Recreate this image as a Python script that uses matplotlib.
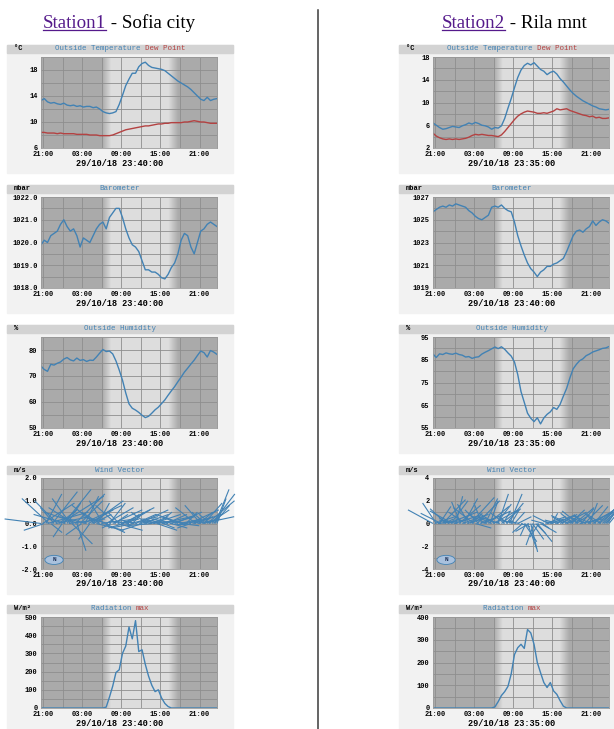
import numpy as np
import matplotlib.pyplot as plt
from matplotlib.patches import Rectangle, Ellipse
from matplotlib.lines import Line2D
from matplotlib.collections import LineCollection

# half-hourly samples, hours after 21:00 (28/10), from 20:40 to 23:40 next day
hours = np.arange(55) * 0.5 - 0.33
# wind records every 15 minutes over the same span
wind_hours = np.arange(109) * 0.25 - 0.33
time_ticks = [0, 6, 12, 18, 24]
time_labels = ["21:00", "03:00", "09:00", "15:00", "21:00"]
twilight = [9.0, 10.4, 19.1, 20.6]   # dawn start, full day, dusk start, full night

# ---- Station1 - Sofia city
s1_temp = [13.3, 13.6, 13.1, 12.9, 13.0, 12.8, 12.7, 12.9, 12.6, 12.5,
           12.6, 12.4, 12.5, 12.3, 12.4, 12.4, 12.2, 12.3, 12.0, 11.6,
           11.4, 11.3, 11.4, 11.6, 12.7, 14.1, 15.6, 16.6, 17.5, 17.5,
           18.5, 19.0, 19.2, 18.7, 18.4, 18.3, 18.2, 18.1, 17.9, 17.5,
           17.1, 16.7, 16.3, 16.0, 15.7, 15.4, 15.0, 14.5, 14.0, 13.5,
           13.3, 13.8, 13.3, 13.5, 13.6]
s1_dew = [8.4, 8.4, 8.3, 8.3, 8.3, 8.2, 8.3, 8.2, 8.2, 8.2,
          8.2, 8.1, 8.1, 8.1, 8.1, 8.0, 8.0, 8.0, 7.9, 7.9,
          7.9, 7.9, 8.0, 8.2, 8.4, 8.6, 8.8, 8.9, 9.0, 9.1,
          9.2, 9.3, 9.4, 9.4, 9.5, 9.6, 9.7, 9.7, 9.8, 9.8,
          9.9, 9.9, 9.9, 9.9, 10.0, 10.0, 10.1, 10.2, 10.1, 10.0,
          10.0, 9.9, 9.8, 9.8, 9.8]
s1_baro = [1019.9, 1020.1, 1020.0, 1020.3, 1020.4, 1020.5, 1020.8, 1021.0, 1020.7, 1020.5,
           1020.6, 1020.3, 1019.8, 1020.2, 1020.1, 1020.0, 1020.3, 1020.6, 1020.8, 1020.9,
           1020.6, 1021.1, 1021.3, 1021.5, 1021.5, 1021.1, 1020.6, 1020.2, 1019.9, 1019.8,
           1019.6, 1019.2, 1018.8, 1018.8, 1018.7, 1018.7, 1018.6, 1018.45, 1018.4, 1018.6,
           1018.9, 1019.1, 1019.5, 1020.1, 1020.4, 1020.3, 1019.8, 1019.5, 1020.0, 1020.5,
           1020.6, 1020.8, 1020.9, 1020.8, 1020.7]
s1_hum = [73.8, 72.5, 71.8, 74.5, 74.2, 74.9, 75.4, 76.5, 77.1, 76.2,
          75.8, 76.9, 76.0, 76.3, 75.6, 76.1, 76.0, 77.3, 78.8, 80.2,
          79.4, 79.6, 78.5, 75.8, 72.3, 68.4, 63.5, 59.3, 57.6, 56.9,
          56.0, 54.9, 54.0, 54.5, 55.7, 57.0, 58.0, 59.4, 60.8, 62.6,
          64.3, 65.9, 67.8, 69.6, 71.5, 73.0, 74.6, 76.1, 77.9, 79.6,
          79.0, 77.3, 79.8, 79.2, 78.3]
s1_wind_u = [-1.6, 1.4, -0.9, 0.7, 1.8, -1.2, 0.5, 1.1, -0.6, 1.5, -1.0,
             0.8, 1.9, -0.4, 1.2, -1.4, 0.6, 1.6, -0.8, 0.9, -1.1, 1.3,
             0.4, -1.5, 1.0, -0.7, 1.7, 0.6, -1.2, 1.1, -0.5, 1.4, 0.8,
             -1.0, 1.2, 0.5, -0.8, 1.5, -0.6, 0.9, 1.2, -1.1, 0.7, -0.4,
             1.3, 0.6, -0.9, 1.1, -0.5, 0.8, 1.4, -0.7, 0.6, 1.0, -0.8,
             1.2, 0.5, -1.0, 0.9, -0.6, 1.3, 0.7, -0.9, 1.1, 0.4, -0.7,
             1.0, 0.8, -1.1, 1.2, -0.5, 0.9, 0.6, -0.8, 1.3, 0.5, -1.0,
             0.9, -0.6, 1.1, 0.7, -0.9, 1.2, 0.4, -0.7, 1.0, 0.8, -1.2,
             1.1, 0.5, -0.8, 1.3, -0.6, 0.9, 1.2, -0.9, 1.0, 0.6, -0.7,
             1.4, 0.8, -0.6, 1.2, 0.9, -0.5, 1.0, 0.7, 0.6, 0.4]
s1_wind_v = [0.2, 0.9, -0.3, 1.3, 0.5, 1.1, -0.4, 1.4, 0.7, 0.3, 1.0,
             0.6, 1.2, -0.6, 1.5, 0.4, 0.9, 0.2, 1.1, -0.9, 0.7, 1.3,
             -1.2, 0.5, 1.0, -0.5, 0.8, 1.2, 0.3, 0.6, -0.7, 1.0, 0.4,
             0.8, -0.3, 0.9, 0.5, 0.2, 1.0, -0.4, 0.7, 0.3, 0.9, -0.2,
             0.6, 0.4, 0.8, -0.3, 0.5, 0.2, 0.7, -0.2, 0.4, 0.6, 0.1,
             0.3, 0.5, -0.2, 0.4, 0.1, 0.6, 0.2, -0.3, 0.4, 0.2, 0.5,
             0.1, 0.3, -0.1, 0.4, 0.2, -0.3, 0.5, 0.1, 0.3, -0.2, 0.2,
             0.4, 0.1, 0.3, -0.2, 0.2, 0.5, 0.0, 0.3, 0.2, -0.1, 0.4,
             0.2, 0.5, 0.1, 0.6, -0.2, 0.3, 0.4, 0.7, 0.2, 0.5, 0.8,
             0.3, 0.9, 0.5, 1.0, 0.6, 0.4, 1.3, 0.8, 1.5, 1.1]
s1_rad = [0, 0, 0, 0, 0, 0, 0, 0, 0, 0,
          0, 0, 0, 0, 0, 0, 0, 0, 0, 0,
          5, 60, 120, 195, 210, 300, 340, 445, 380, 480,
          310, 320, 240, 175, 125, 90, 100, 55, 25, 8,
          0, 0, 0, 0, 0, 0, 0, 0, 0, 0,
          0, 0, 0, 0, 0]

# ---- Station2 - Rila mnt
s2_temp = [6.4, 6.0, 5.6, 5.3, 5.4, 5.6, 5.8, 5.7, 5.6, 5.9,
           6.1, 6.4, 6.2, 6.5, 6.3, 6.0, 5.9, 5.7, 5.3, 5.6,
           5.5, 5.9, 7.2, 9.0, 10.7, 12.6, 14.4, 15.7, 16.5, 16.9,
           16.6, 17.0, 16.4, 15.8, 15.5, 14.9, 15.3, 15.5, 15.0, 14.2,
           13.6, 12.9, 12.2, 11.6, 11.1, 10.7, 10.3, 10.0, 9.7, 9.4,
           9.2, 8.9, 8.8, 8.7, 8.8]
s2_dew = [4.6, 4.1, 3.8, 3.6, 3.5, 3.6, 3.5, 3.6, 3.5, 3.6,
          3.7, 3.9, 4.2, 4.4, 4.3, 4.4, 4.3, 4.2, 4.2, 4.1,
          4.0, 4.3, 4.9, 5.6, 6.3, 7.0, 7.6, 8.0, 8.3, 8.5,
          8.4, 8.3, 8.1, 8.1, 8.2, 8.1, 8.3, 8.5, 8.9, 8.7,
          8.8, 8.9, 8.6, 8.4, 8.2, 8.0, 7.8, 7.7, 7.5, 7.6,
          7.3, 7.4, 7.2, 7.2, 7.3]
s2_baro = [1025.7, 1025.9, 1026.1, 1026.2, 1026.1, 1026.3, 1026.2, 1026.4, 1026.3, 1026.2,
           1026.1, 1025.8, 1025.6, 1025.3, 1025.1, 1025.0, 1025.2, 1025.4, 1026.1, 1026.2,
           1026.1, 1026.3, 1026.0, 1025.8, 1025.7, 1024.8, 1023.6, 1022.7, 1021.9, 1021.2,
           1020.7, 1020.4, 1020.0, 1020.4, 1020.6, 1020.9, 1020.9, 1021.1, 1021.2, 1021.4,
           1021.6, 1022.2, 1022.9, 1023.6, 1024.0, 1024.1, 1023.9, 1024.2, 1024.4, 1024.9,
           1024.5, 1024.8, 1025.0, 1024.9, 1024.7]
s2_hum = [87.5, 86.0, 87.6, 87.3, 88.0, 87.6, 87.4, 87.9, 87.3, 87.0,
          86.2, 86.4, 85.6, 86.1, 86.3, 87.5, 88.3, 89.0, 89.8, 90.6,
          89.9, 90.7, 89.6, 88.0, 86.6, 84.0, 78.5, 71.0, 66.3, 61.5,
          59.3, 57.8, 59.5, 56.8, 59.4, 61.0, 62.1, 64.0, 63.2, 65.4,
          69.0, 72.4, 77.0, 81.0, 83.0, 84.6, 85.4, 86.8, 87.5, 88.4,
          88.9, 89.4, 90.0, 90.2, 90.8]
s2_wind_u = [-2.2, 1.8, -1.2, 2.4, 1.0, -1.8, 2.0, 0.8, -1.4, 2.6, -0.9,
             1.5, -2.0, 2.2, 0.6, -1.6, 1.9, -0.8, 2.3, 1.2, -1.5, 1.7,
             -1.0, 2.1, 0.9, -1.8, 1.4, 2.0, -1.2, 1.6, -0.7, 2.4, 1.1,
             -1.6, 1.8, 0.7, -1.1, 2.2, -1.4, 1.3, 0.9, -1.9, 1.7, 0.6,
             -1.2, 1.5, -0.8, 1.1, 0.7, -1.3, 0.9, -0.6, 1.2, -1.0, 0.8,
             -0.9, 1.1, -0.5, 0.8, -1.2, 0.6, 1.0, -0.7, 0.9, 1.3, -0.8,
             1.4, 0.6, -1.1, 1.8, 0.9, -1.4, 1.2, 0.5, -0.9, 1.6, 1.0,
             -1.2, 1.5, 0.7, -1.0, 1.9, 0.8, -1.5, 1.3, 0.6, -1.1, 1.7,
             0.9, -1.4, 2.0, 1.1, -0.8, 1.6, -1.3, 2.2, 0.7, -1.6, 1.9,
             1.2, -1.0, 2.4, 1.5, -1.2, 2.0, 2.6, 1.4, 2.2, 1.8]
s2_wind_v = [1.2, 0.6, 1.8, 0.3, 1.5, 0.9, 2.1, 0.4, 1.3, 1.0, 0.5,
             2.0, 1.1, 0.7, 2.4, 0.3, 1.6, 1.9, 0.8, 2.2, 1.0, 0.5,
             1.7, 2.3, 0.9, 1.4, -0.4, 2.0, 1.2, 0.6, 1.8, 1.1, 2.2,
             0.8, 1.5, 2.0, 0.5, 1.2, 0.9, 1.7, 2.6, 0.6, 1.3, 1.0,
             0.9, 1.8, 0.6, 2.6, 1.2, 0.4, 1.0, 0.3, 0.6, 0.2, -0.3,
             -0.8, -1.6, -1.1, -2.2, -0.7, -2.5, -1.4, -1.9, -0.9, -1.6, -1.2,
             -0.8, -0.4, 0.3, 0.6, 0.2, 0.7, 0.4, 0.9, 0.2, 0.7, 0.5,
             0.3, 0.8, 0.4, 0.6, 1.0, 0.3, 0.7, 1.2, 0.5, 0.9, 1.4,
             0.6, 1.1, 0.4, 1.3, 0.8, 1.6, 0.5, 1.0, 1.8, 0.7, 1.2,
             1.5, 0.9, 2.0, 1.2, 0.8, 2.4, 2.9, 1.6, 3.2, 2.2]
s2_rad = [0, 0, 0, 0, 0, 0, 0, 0, 0, 0,
          0, 0, 0, 0, 0, 0, 0, 0, 0, 5,
          28, 55, 72, 95, 150, 235, 265, 280, 262, 345,
          330, 280, 200, 155, 112, 90, 112, 75, 60, 32,
          8, 0, 0, 0, 0, 0, 0, 0, 0, 0,
          0, 0, 0, 0, 0]

W, H = 614, 729
BLUE = "#4282b4"
RED = "#b44242"
MONO = "Liberation Mono"
NIGHT = np.array([0.67, 0.67, 0.67])
DAY = np.array([0.87, 0.87, 0.87])

fig = plt.figure(figsize=(W / 100, H / 100), dpi=100)
fig.patch.set_facecolor("white")


def fig_rect(x, y, w, h, color):
    fig.patches.append(Rectangle((x / W, 1 - (y + h) / H), w / W, h / H,
                                 transform=fig.transFigure, color=color, zorder=-1))


def chart(x, top, unit, titles, date, ylim, major, minor, fmt, series=(), wind=None):
    w, h = 176, 91
    pl = x - 34
    fig_rect(pl, top - 12, 226, h + 37, "#f2f2f2")
    fig_rect(pl, top - 12, 226, 8, "#d3d3d3")
    fig.text((pl + 7) / W, 1 - (top - 8) / H, unit, fontsize=5, family=MONO,
             weight="bold", va="center")
    # title pieces in a monospace font, laid out by character width
    full = "".join(t for t, _ in titles)
    cw = 0.6 * 5.4 * 100 / 72
    start = pl + 113 - len(full) * cw / 2
    pos = 0
    for txt, col in titles:
        fig.text((start + pos * cw) / W, 1 - (top - 8) / H, txt, fontsize=5.4,
                 family=MONO, color=col, va="center")
        pos += len(txt)

    ax = fig.add_axes([x / W, 1 - (top + h) / H, w / W, h / H])
    x0, x1 = hours[0], hours[-1]
    ax.set_xlim(x0, x1)
    ax.set_ylim(*ylim)

    xs = np.linspace(x0, x1, 500)
    level = np.interp(xs, twilight, [0, 1, 1, 0])
    shade = NIGHT[None, :] + level[:, None] * (DAY - NIGHT)[None, :]
    ax.imshow(shade[None, :, :], extent=(x0, x1, ylim[0], ylim[1]),
              aspect="auto", zorder=0, interpolation="bilinear")

    ax.set_xticks(time_ticks)
    ax.set_xticklabels(time_labels)
    ax.set_xticks(np.arange(3, 24, 6), minor=True)
    ax.set_yticks(major)
    ax.set_yticklabels([fmt.format(v) for v in major])
    ax.set_yticks(minor, minor=True)
    ax.grid(which="both", color="#8e8e8e", linewidth=0.6)
    ax.tick_params(which="both", length=0, labelsize=5, pad=2.5)
    for lab in ax.get_xticklabels() + ax.get_yticklabels():
        lab.set_family(MONO)
        lab.set_weight("bold")
    for s in ax.spines.values():
        s.set_color("#9a9a9a")
        s.set_linewidth(0.6)

    for vals, col in series:
        ax.plot(hours, vals, color=col, linewidth=1.0)

    if wind is not None:
        u, v = np.asarray(wind[0]), np.asarray(wind[1])
        # keep vector directions true on screen: m/s -> hours on the x axis
        k = (h / (ylim[1] - ylim[0])) / (w / (x1 - x0))
        segs = [[(t, 0), (t + du * k, dv)] for t, du, dv in zip(wind_hours, u, v)]
        lc = LineCollection(segs, colors=BLUE, linewidths=0.8, clip_on=False, zorder=3)
        ax.add_collection(lc)
        ex = x0 + 2.0
        ey = ylim[0] + (ylim[1] - ylim[0]) * 0.1
        ax.add_patch(Ellipse((ex, ey), 2.8, (ylim[1] - ylim[0]) * 0.1,
                             facecolor="#a9c1dd", edgecolor=BLUE, linewidth=0.6, zorder=4))
        ax.text(ex, ey, "N", fontsize=4.5, family=MONO, weight="bold",
                ha="center", va="center", color="#1d2f55", zorder=5)

    # the time stamp is centred on the whole panel, not on the plot area
    fig.text((pl + 113) / W, 1 - (top + h + 15) / H, date, fontsize=6.2,
             family=MONO, weight="bold", ha="center", va="center")
    return ax


tops = [57, 197, 337, 478, 617]
columns = [
    (41, "Station1", " - Sofia city", 119,
     [s1_temp, s1_dew, s1_baro, s1_hum, (s1_wind_u, s1_wind_v), s1_rad],
     ["23:40:00"] * 5,
     [((6, 20), [6, 10, 14, 18], np.arange(6, 20.1, 2), "{:.0f}"),
      ((1018, 1022), [1018, 1019, 1020, 1021, 1022], np.arange(1018, 1022.1, 0.5), "{:.1f}"),
      ((50, 85), [50, 60, 70, 80], np.arange(50, 85.1, 5), "{:.0f}"),
      ((-2, 2), [-2, -1, 0, 1, 2], np.arange(-2, 2.1, 0.5), "{:.1f}"),
      ((0, 500), [0, 100, 200, 300, 400, 500], np.arange(0, 501, 50), "{:.0f}")]),
    (433, "Station2", " - Rila mnt", 514,
     [s2_temp, s2_dew, s2_baro, s2_hum, (s2_wind_u, s2_wind_v), s2_rad],
     ["23:35:00", "23:40:00", "23:35:00", "23:40:00", "23:35:00"],
     [((2, 18), [2, 6, 10, 14, 18], np.arange(2, 18.1, 2), "{:.0f}"),
      ((1019, 1027), [1019, 1021, 1023, 1025, 1027], np.arange(1019, 1027.1, 1), "{:.0f}"),
      ((55, 95), [55, 65, 75, 85, 95], np.arange(55, 95.1, 5), "{:.0f}"),
      ((-4, 4), [-4, -2, 0, 2, 4], np.arange(-4, 4.1, 1), "{:.0f}"),
      ((0, 400), [0, 100, 200, 300, 400], np.arange(0, 401, 50), "{:.0f}")]),
]

units = ["°C", "mbar", "%", "m/s", "W/m²"]
titles = [[("Outside Temperature ", BLUE), ("Dew Point", RED)],
          [("Barometer", BLUE)],
          [("Outside Humidity", BLUE)],
          [("Wind Vector", BLUE)],
          [("Radiation ", BLUE), ("max", RED)]]

headers = []
for x, link, rest, cx, data, times, scales in columns:
    temp, dew, baro, hum, wind, rad = data
    lines = [[(temp, BLUE), (dew, RED)], [(baro, BLUE)], [(hum, BLUE)], [], [(rad, BLUE)]]
    for i in range(5):
        ylim, major, minor, fmt = scales[i]
        chart(x, tops[i], units[i], titles[i], "29/10/18 " + times[i], ylim, major,
              minor, fmt, series=lines[i], wind=wind if i == 3 else None)
    t1 = fig.text(0, 1 - 23 / H, link, fontsize=13.7, family="Liberation Serif",
                  color="#551a8b", va="center")
    t2 = fig.text(0, 1 - 23 / H, rest, fontsize=13.7, family="Liberation Serif",
                  color="black", va="center")
    headers.append((t1, t2, cx))

fig.canvas.draw()
r = fig.canvas.get_renderer()
for t1, t2, cx in headers:
    b1 = t1.get_window_extent(r)
    b2 = t2.get_window_extent(r)
    left = cx - (b1.width + b2.width) / 2
    t1.set_x(left / W)
    t2.set_x((left + b1.width) / W)
    uy = (b1.y0 + 1.5) / H
    fig.add_artist(Line2D([left / W, (left + b1.width) / W], [uy, uy],
                          color="#551a8b", linewidth=0.9))

fig.add_artist(Line2D([318 / W, 318 / W], [0, 1 - 10 / H], color="#3a3a3a", linewidth=1.1))

fig.savefig("out.png", dpi=100)
